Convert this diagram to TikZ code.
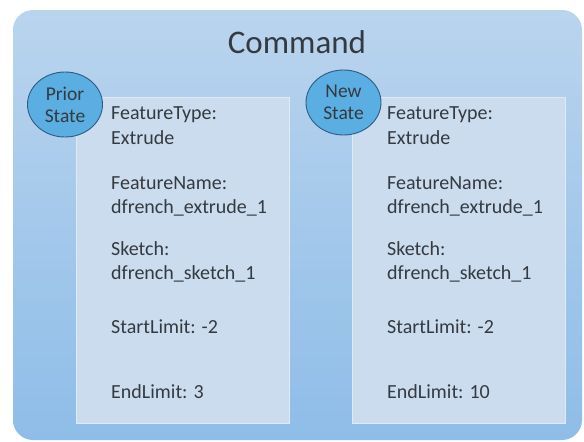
\documentclass[tikz,border=0pt]{standalone}
\usepackage{fontspec}
\setmainfont{Carlito}
\usetikzlibrary{positioning,shapes.geometric}

\definecolor{cmdtop}{HTML}{BAD4EE}
\definecolor{cmdbot}{HTML}{8EBDE8}
\definecolor{panel}{HTML}{CADCEE}
\definecolor{bubble}{HTML}{5AAEE2}
\definecolor{bubbleline}{HTML}{2E5C84}
\definecolor{ink}{HTML}{353A40}

\tikzset{
  statebox/.style={fill=panel, draw=panel!60!white, line width=0.8pt,
    minimum width=213pt, minimum height=326pt, inner sep=0pt, anchor=north west},
  bubble/.style={ellipse, fill=bubble, draw=bubbleline, line width=0.9pt,
    minimum width=75pt, minimum height=65pt, inner sep=0pt, align=center,
    text=ink, font=\fontsize{19.5}{22}\selectfont},
  field/.style={anchor=base west, inner sep=0pt, text=ink,
    font=\fontsize{20}{22}\selectfont}
}

\begin{document}
\begin{tikzpicture}[x=1pt,y=-1pt]

\useasboundingbox (0,0) rectangle (584,442);

% command frame
\shade[top color=cmdtop, bottom color=cmdbot, rounded corners=20pt]
  (13,10) rectangle (582,440);
\node (cmd) at (297,42) [text=ink, font=\fontsize{33}{36}\selectfont] {Command};

% the two states
\node (prior) at (76,97) [statebox] {};
\node (new) at (352,97) [statebox] {};

\node (priorlbl) at (65,104.5) [bubble] {Prior\\State};
\node (newlbl) at (343.5,102.5) [bubble] {New\\State};

% same fields in both boxes
\foreach \y/\t [count=\k] in {119/FeatureType:, 144/Extrude,
    189/FeatureName:, 213/dfrench\_extrude\_1,
    255/Sketch:, 279/dfrench\_sketch\_1,
    333/StartLimit: -2}
{
  \node (pf\k) at (111,\y) [field] {\t};
  \node (nf\k) at (387,\y) [field] {\t};
}

\node (pend) at (111,398) [field] {EndLimit: 3};
\node (nend) at (387,398) [field] {EndLimit: 10};

\end{tikzpicture}
\end{document}
